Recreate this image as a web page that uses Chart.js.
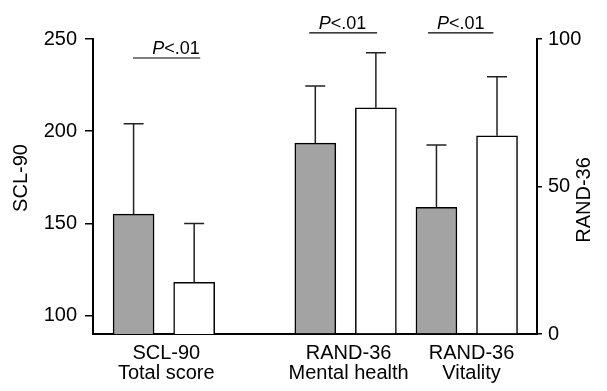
<!DOCTYPE html>
<html>
<head>
<meta charset="utf-8">
<script src="https://cdn.jsdelivr.net/npm/chart.js@4.4.1/dist/chart.umd.min.js"></script>
<style>
    html, body { margin: 0; padding: 0; background: #fff; }
    #wrap { width: 607px; height: 391px; }
</style>
</head>
<body>
<div id="wrap"><canvas id="chart" width="607" height="391"></canvas></div>
<script>
// x axis groups (bar slots: SCL-90 at 0,1 / Mental health at 3,4 / Vitality at 5,6)
const groupLabels = [['SCL-90', 'Total score'], ['RAND-36', 'Mental health'], ['RAND-36', 'Vitality']];
const groupTicks = [0.54, 3.55, 5.58];

// SCL-90 total score (left axis), grey = before, white = after
const sclSlots = [0, 1];
const sclMean = [155, 118];
const sclSd = [49, 32];

// RAND-36 subscales (right axis)
const randGreySlots = [3, 5];
const randGreyMean = [64.7, 42.9];
const randGreySd = [19.4, 21.2];
const randWhiteSlots = [4, 6];
const randWhiteMean = [76.7, 67.2];
const randWhiteSd = [18.6, 20.0];

// axis ticks
const leftTicks = [100, 150, 200, 250];
const rightTicks = [0, 50, 100];

// significance brackets: span in slots, level in axis units
const brackets = [
    { axis: 'y', from: -0.01, to: 1.1, level: 239.7, textAt: 0.7, text: '<.01' },
    { axis: 'y2', from: 2.9, to: 4.02, level: 102.1, textAt: 3.45, text: '<.01' },
    { axis: 'y2', from: 4.86, to: 5.94, level: 102.1, textAt: 5.4, text: '<.01' }
];

const FONT = '"Liberation Sans", Arial, Helvetica, sans-serif';
const GREY = '#a3a3a3';

function points(slots, values) {
    return slots.map((s, i) => ({ x: s, y: values[i] }));
}

function barSet(label, slots, values, sd, fill, axis) {
    return {
        label: label,
        data: points(slots, values),
        sd: sd,
        yAxisID: axis,
        backgroundColor: fill,
        borderColor: '#000',
        borderWidth: 1.5,
        borderSkipped: 'bottom',
        barThickness: 41,
        grouped: false
    };
}

// upward error bars + P brackets + rotated axis titles
const extras = {
    id: 'extras',
    afterDatasetsDraw(chart) {
        const ctx = chart.ctx;
        ctx.save();
        ctx.strokeStyle = '#222';
        ctx.lineWidth = 1.5;
        chart.data.datasets.forEach((ds, i) => {
            const meta = chart.getDatasetMeta(i);
            const scale = chart.scales[ds.yAxisID];
            meta.data.forEach((el, j) => {
                const top = scale.getPixelForValue(ds.data[j].y + ds.sd[j]);
                ctx.beginPath();
                ctx.moveTo(el.x, el.y);
                ctx.lineTo(el.x, top);
                ctx.moveTo(el.x - 10, top);
                ctx.lineTo(el.x + 10, top);
                ctx.stroke();
            });
        });
        ctx.restore();
    },
    afterDraw(chart) {
        const ctx = chart.ctx;
        const xs = chart.scales.x;
        ctx.save();
        ctx.strokeStyle = '#000';
        ctx.fillStyle = '#000';
        ctx.lineWidth = 1.2;
        ctx.textBaseline = 'alphabetic';
        brackets.forEach(b => {
            const y = chart.scales[b.axis].getPixelForValue(b.level);
            ctx.beginPath();
            ctx.moveTo(xs.getPixelForValue(b.from), y);
            ctx.lineTo(xs.getPixelForValue(b.to), y);
            ctx.stroke();

            ctx.font = 'italic 18px ' + FONT;
            const wP = ctx.measureText('P').width;
            ctx.font = '18px ' + FONT;
            const wR = ctx.measureText(b.text).width;
            let x = xs.getPixelForValue(b.textAt) - (wP + wR) / 2;
            ctx.font = 'italic 18px ' + FONT;
            ctx.textAlign = 'left';
            ctx.fillText('P', x, y - 4);
            ctx.font = '18px ' + FONT;
            ctx.fillText(b.text, x + wP, y - 4);
        });

        // axis titles, both reading bottom to top
        ctx.font = '20px ' + FONT;
        ctx.textAlign = 'center';
        ctx.textBaseline = 'middle';
        [['SCL-90', 21, 178], ['RAND-36', 584, 200]].forEach(([t, x, y]) => {
            ctx.save();
            ctx.translate(x, y);
            ctx.rotate(-Math.PI / 2);
            ctx.fillText(t, 0, 0);
            ctx.restore();
        });
        ctx.restore();
    }
};

new Chart(document.getElementById('chart'), {
    type: 'bar',
    data: {
        datasets: [
            barSet('SCL-90 grey', sclSlots.slice(0, 1), sclMean.slice(0, 1), sclSd.slice(0, 1), GREY, 'y'),
            barSet('SCL-90 white', sclSlots.slice(1), sclMean.slice(1), sclSd.slice(1), '#fff', 'y'),
            barSet('RAND-36 grey', randGreySlots, randGreyMean, randGreySd, GREY, 'y2'),
            barSet('RAND-36 white', randWhiteSlots, randWhiteMean, randWhiteSd, '#fff', 'y2')
        ]
    },
    options: {
        responsive: false,
        animation: false,
        devicePixelRatio: 1,
        layout: { padding: { top: 39, left: 0, right: 0, bottom: 0 } },
        plugins: {
            legend: { display: false },
            tooltip: { enabled: false }
        },
        scales: {
            x: {
                type: 'linear',
                min: -0.67,
                max: 6.66,
                offset: false,
                grid: { display: false, drawTicks: false, tickLength: 0 },
                border: { display: true, color: '#000', width: 2 },
                afterBuildTicks: s => { s.ticks = groupTicks.map(v => ({ value: v })); },
                afterFit: s => { s.height = 57; },
                ticks: {
                    autoSkip: false,
                    maxRotation: 0,
                    padding: 9,
                    color: '#000',
                    font: { family: FONT, size: 20, lineHeight: 1.0 },
                    callback: (v, i) => groupLabels[i]
                }
            },
            y: {
                position: 'left',
                min: 90,
                max: 250,
                grid: { drawOnChartArea: false, drawTicks: true, tickLength: 8, color: '#000', lineWidth: 1.5 },
                border: { display: true, color: '#000', width: 2 },
                afterBuildTicks: s => { s.ticks = leftTicks.map(v => ({ value: v })); },
                afterFit: s => { s.width = 93; },
                ticks: {
                    padding: 8,
                    color: '#000',
                    font: { family: FONT, size: 20 }
                }
            },
            y2: {
                position: 'right',
                min: 0,
                max: 100,
                grid: { drawOnChartArea: false, drawTicks: true, tickLength: 5, color: '#000', lineWidth: 1.5 },
                border: { display: true, color: '#000', width: 2 },
                afterBuildTicks: s => { s.ticks = rightTicks.map(v => ({ value: v })); },
                afterFit: s => { s.width = 70; },
                ticks: {
                    padding: 6,
                    color: '#000',
                    font: { family: FONT, size: 20 }
                }
            }
        }
    },
    plugins: [extras]
});
</script>
</body>
</html>
